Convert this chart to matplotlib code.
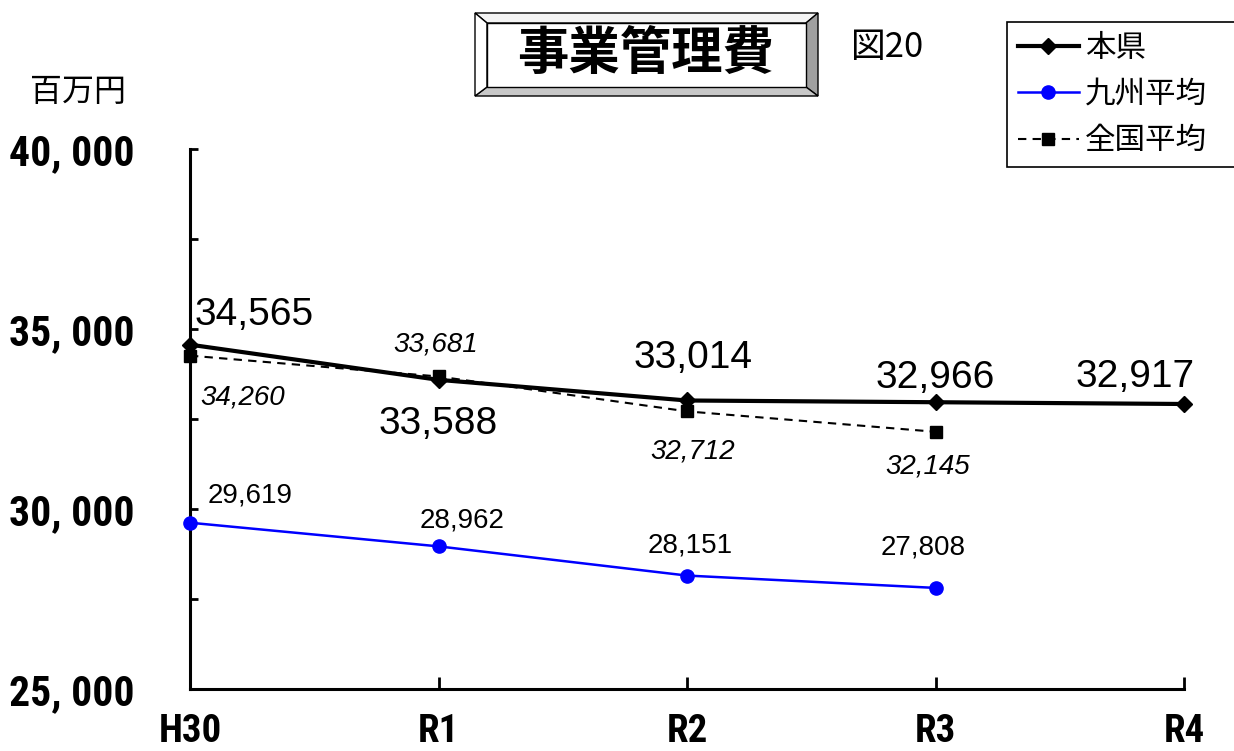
import matplotlib
matplotlib.use("Agg")
import matplotlib.pyplot as plt
from matplotlib import font_manager
from matplotlib.patches import Polygon
from matplotlib.ticker import FixedLocator, FuncFormatter

years = ["H30", "R1", "R2", "R3", "R4"]
honken = [34565, 33588, 33014, 32966, 32917]
kyushu = [29619, 28962, 28151, 27808]
zenkoku = [34260, 33681, 32712, 32145]

# label offsets in pixels (dx, dy of baseline) and alignment
honken_off = [(5, 20, "left"), (0, -54, "center"), (6, 32, "center"), (0, 14, "center"), (-49, 17, "center")]
kyushu_off = [(18, 20, "left"), (24, 19, "center"), (3, 23, "center"), (-12, 33, "center")]
zenkoku_off = [(10, -49, "left"), (-3, 25, "center"), (6, -47, "center"), (-8, -42, "center")]

W, H = 1234, 751
jp = ["Noto Sans CJK JP", "DejaVu Sans"]
arial = "Liberation Sans"

# pick a narrow bold face for the axis numbers if one is installed
ttf = font_manager.fontManager.ttflist
names = {f.name for f in ttf}
narrow, stretch = None, "normal"
for cand in ["Liberation Sans Narrow", "Arial Narrow", "DejaVu Sans Condensed",
             "Roboto Condensed", "Open Sans Condensed", "Noto Sans Condensed"]:
    if cand in names:
        narrow = cand
        break
if narrow is None:
    cond = [f for f in ttf if str(f.stretch) in ("condensed", "semi-condensed", "extra-condensed")
            or (isinstance(f.stretch, int) and f.stretch < 500)]
    if cond:
        narrow, stretch = cond[0].name, "condensed"
    else:
        narrow = "Noto Sans CJK JP"
tick_size = 29 if narrow == "Noto Sans CJK JP" else 30

fig = plt.figure(figsize=(W / 100, H / 100), dpi=100)
ax = fig.add_axes([190 / W, 1 - 689 / H, (1184 - 190) / W, (689 - 149) / H])

x = list(range(len(years)))
ax.plot(x, honken, color="black", lw=3, marker="D", ms=8, label="本県", zorder=4)
ax.plot(x[:len(kyushu)], kyushu, color="#0000ff", lw=1.8, marker="o", ms=9.5, label="九州平均", zorder=3)
ax.plot(x[:len(zenkoku)], zenkoku, color="black", lw=1.5, ls=(0, (4, 3)), marker="s", ms=8.5,
        label="全国平均", zorder=3)

for i, v in enumerate(honken):
    dx, dy, ha = honken_off[i]
    ax.annotate(f"{v:,}", (i, v), xytext=(dx, dy), textcoords="offset pixels", ha=ha, va="baseline",
                fontsize=28, family=arial)
for i, v in enumerate(kyushu):
    dx, dy, ha = kyushu_off[i]
    ax.annotate(f"{v:,}", (i, v), xytext=(dx, dy), textcoords="offset pixels", ha=ha, va="baseline",
                fontsize=20, family=arial)
for i, v in enumerate(zenkoku):
    dx, dy, ha = zenkoku_off[i]
    ax.annotate(f"{v:,}", (i, v), xytext=(dx, dy), textcoords="offset pixels", ha=ha, va="baseline",
                fontsize=20, family=arial, style="italic")

ax.set_xlim(0, len(years) - 1)
ax.set_ylim(25000, 40000)
ax.set_xticks(x)
ax.set_xticklabels(years, family=narrow, fontweight="bold", fontsize=tick_size - 2,
                   fontstretch=stretch)
ax.yaxis.set_major_locator(FixedLocator([25000, 30000, 35000, 40000]))
ax.yaxis.set_minor_locator(FixedLocator([27500, 32500, 37500]))
ax.yaxis.set_major_formatter(FuncFormatter(lambda v, p: f"{int(v):,}".replace(",", ", ")))
for lab in ax.get_yticklabels():
    lab.set_fontfamily(narrow)
    lab.set_fontweight("bold")
    lab.set_fontsize(tick_size)
    lab.set_fontstretch(stretch)
ax.tick_params(axis="y", which="both", direction="in", length=6, width=2, pad=40)
ax.tick_params(axis="x", direction="in", length=9, width=2, pad=17)
for s in ("top", "right"):
    ax.spines[s].set_visible(False)
for s in ("left", "bottom"):
    ax.spines[s].set_linewidth(2.2)
for ln in ax.lines:
    ln.set_clip_on(False)

leg = fig.legend(loc="upper left", bbox_to_anchor=(1007 / W, 1 - 22 / H - 0.01, 260 / W, 0.01),
                 mode="expand", borderaxespad=0,
                 prop={"family": jp, "size": 22}, handlelength=2.0, handletextpad=0.2,
                 labelspacing=0.5, borderpad=0.35, fancybox=False, framealpha=1,
                 edgecolor="black")
leg.get_frame().set_linewidth(1.2)


def P(px, py):
    return (px / W, 1 - py / H)


# beveled title box
o = [P(475, 13), P(818, 13), P(818, 96), P(475, 96)]
n = [P(487, 23), P(806, 23), P(806, 87), P(487, 87)]
faces = [
    ([o[0], o[1], n[1], n[0]], "#f4f4f4"),
    ([o[1], o[2], n[2], n[1]], "#a0a0a0"),
    ([o[2], o[3], n[3], n[2]], "#c8c8c8"),
    ([o[3], o[0], n[0], n[3]], "#ffffff"),
    (n, "#ffffff"),
]
for pts, col in faces:
    fig.patches.append(Polygon(pts, closed=True, facecolor=col, edgecolor="black", lw=1.0,
                               transform=fig.transFigure))

fig.text(*P(646, 53), "事業管理費", ha="center", va="center", fontsize=37, fontweight="bold",
         family=jp)
fig.text(*P(888, 48), "図20", ha="center", va="center", fontsize=25, family=jp)
fig.text(*P(78, 92), "百万円", ha="center", va="center", fontsize=23, family=jp)

fig.savefig("out.png", dpi=100)
